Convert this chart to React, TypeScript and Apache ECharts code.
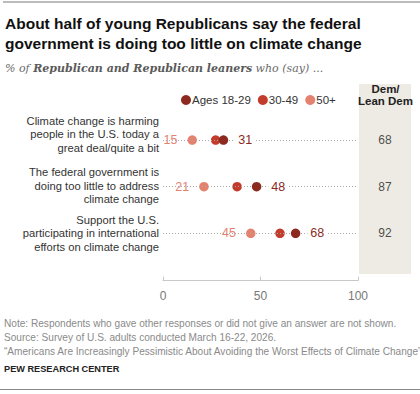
import React, { useEffect, useRef } from "react";
import * as echarts from "echarts";

// Survey items (rows, top to bottom)
const categories = [
  "Climate change is harming\npeople in the U.S. today a\ngreat deal/quite a bit",
  "The federal government is\ndoing too little to address\nclimate change",
  "Support the U.S.\nparticipating in international\nefforts on climate change",
];

// Republican / Republican-leaning shares by age group (%)
const ages18to29 = [31, 48, 68];
const ages30to49 = [27, 38, 60];
const ages50plus = [15, 21, 45];

// Democrat / lean Democrat shares (%)
const demLeanDem = [68, 87, 92];

const seriesNames = ["Ages 18-29", "30-49", "50+"];
const seriesColors = ["#8C2A1F", "#C23B2B", "#E5826F"];
const xMin = 0;
const xMax = 100;
const xInterval = 50;

const noteLines = [
  "Note: Respondents who gave other responses or did not give an answer are not shown.",
  "Source: Survey of U.S. adults conducted March 16-22, 2026.",
  "\u201cAmericans Are Increasingly Pessimistic About Avoiding the Worst Effects of Climate Change\u201d",
];

const SANS = "'Liberation Sans', Arial, sans-serif";
const SERIF = "'DejaVu Serif', Georgia, serif";

// extra blank space under each row label, nudging the text block upward
const labelLift = [12, 2, 0];

export default function App() {
  const ref = useRef<HTMLDivElement>(null);

  useEffect(() => {
    if (!ref.current) return;
    const chart = echarts.init(ref.current, undefined, { renderer: "svg" });

    const gridTop = 116.7;
    const gridHeight = 140;

    const rowIdx = categories.map((_, i) => i);

    const option: echarts.EChartsOption = {
      animation: false,
      backgroundColor: "#ffffff",
      textStyle: { fontFamily: SANS },
      title: {
        text:
          "About half of young Republicans say the federal\ngovernment is doing too little on climate change",
        left: 5,
        top: 13,
        padding: 0,
        textStyle: {
          fontFamily: SANS,
          fontSize: 15.5,
          fontWeight: "bold",
          lineHeight: 20,
          color: "#111111",
        },
      },
      legend: {
        data: seriesNames,
        left: 181,
        top: 94,
        padding: 0,
        icon: "circle",
        itemWidth: 10,
        itemHeight: 10,
        itemGap: 7,
        textStyle: {
          fontFamily: SANS,
          fontSize: 11.5,
          color: "#333333",
          padding: [0, 0, 0, -4],
        },
      },
      grid: [
        { left: 163, width: 195, top: gridTop, height: gridHeight },
        { left: 359, width: 52, top: gridTop, height: gridHeight },
      ],
      xAxis: [
        {
          type: "value",
          gridIndex: 0,
          min: xMin,
          max: xMax,
          interval: xInterval,
          offset: 24,
          axisLine: { show: true, lineStyle: { color: "#c8c8c8", width: 1 } },
          axisTick: { show: true, inside: true, length: 4, lineStyle: { color: "#c8c8c8" } },
          axisLabel: { color: "#777777", fontSize: 12, margin: 9, fontFamily: SANS },
          splitLine: { show: false },
        },
        {
          type: "value",
          gridIndex: 1,
          min: 0,
          max: 1,
          show: false,
        },
      ],
      yAxis: [
        {
          type: "category",
          gridIndex: 0,
          data: categories,
          inverse: true,
          axisLine: { show: false },
          axisTick: { show: false },
          axisLabel: {
            margin: 4,
            align: "right",
            formatter: (value: string, index: number) => {
              const lines = value.split("\n").map((l) => `{t|${l}}`);
              const lift = labelLift[index] || 0;
              if (lift > 0) lines.push(`{s${index}| }`);
              return lines.join("\n");
            },
            rich: {
              t: { fontFamily: SANS, fontSize: 11.2, lineHeight: 13.5, color: "#333333", align: "right" },
              s0: { fontSize: 1, lineHeight: labelLift[0] },
              s1: { fontSize: 1, lineHeight: labelLift[1] },
              s2: { fontSize: 1, lineHeight: labelLift[2] },
            },
          },
        },
        {
          type: "category",
          gridIndex: 1,
          data: categories,
          inverse: true,
          show: false,
        },
      ],
      series: [
        {
          // dotted guide for each row, 0 to 100
          type: "scatter",
          name: "guides",
          xAxisIndex: 0,
          yAxisIndex: 0,
          data: [],
          z: 1,
          markLine: {
            silent: true,
            symbol: "none",
            label: { show: false },
            lineStyle: { color: "#a8a8a8", type: [1, 2], width: 1 },
            data: rowIdx.map((i) => [
              { coord: [xMin, categories[i]] },
              { coord: [xMax, categories[i]] },
            ]) as any,
          },
        },
        {
          type: "scatter",
          name: seriesNames[2],
          xAxisIndex: 0,
          yAxisIndex: 0,
          z: 3,
          symbolSize: 9.5,
          itemStyle: { color: seriesColors[2], opacity: 1 },
          data: ages50plus.map((v, i) => [v, categories[i]]),
          label: {
            show: true,
            position: "left",
            distance: 7,
            formatter: (p: any) => String(p.value[0]),
            color: seriesColors[2],
            fontFamily: SANS,
            fontSize: 12.5,
            backgroundColor: "#ffffff",
            padding: [1, 3],
          },
        },
        {
          type: "scatter",
          name: seriesNames[1],
          xAxisIndex: 0,
          yAxisIndex: 0,
          z: 4,
          symbolSize: 9.5,
          itemStyle: { color: seriesColors[1], opacity: 1 },
          data: ages30to49.map((v, i) => [v, categories[i]]),
        },
        {
          type: "scatter",
          name: seriesNames[0],
          xAxisIndex: 0,
          yAxisIndex: 0,
          z: 5,
          symbolSize: 9.5,
          itemStyle: { color: seriesColors[0], opacity: 1 },
          data: ages18to29.map((v, i) => [v, categories[i]]),
          label: {
            show: true,
            position: "right",
            distance: 7,
            formatter: (p: any) => String(p.value[0]),
            color: seriesColors[0],
            fontFamily: SANS,
            fontSize: 12.5,
            backgroundColor: "#ffffff",
            padding: [1, 3],
          },
        },
        {
          type: "scatter",
          name: "Dem/Lean Dem",
          xAxisIndex: 1,
          yAxisIndex: 1,
          z: 6,
          symbolSize: 1,
          itemStyle: { color: "rgba(0,0,0,0)" },
          data: demLeanDem.map((v, i) => [0.5, categories[i], v]),
          label: {
            show: true,
            position: "inside",
            formatter: (p: any) => String(p.value[2]),
            color: "#222222",
            fontFamily: SANS,
            fontSize: 12,
          },
        },
      ],
      graphic: [
        // top rule
        {
          type: "line",
          shape: { x1: 3, y1: 2, x2: 420, y2: 2 },
          style: { stroke: "#7a7a7a", lineWidth: 1.2 },
          silent: true,
        },
        // Democrat column background
        {
          type: "rect",
          shape: { x: 359, y: 84, width: 52, height: 190 },
          style: { fill: "#EEEBE4" },
          z: -1,
          silent: true,
        },
        {
          type: "text",
          x: 385.5,
          y: 95,
          style: {
            text: "Dem/\nLean Dem",
            fontFamily: SANS,
            fontSize: 11.5,
            fontWeight: "bold",
            lineHeight: 12.5,
            fill: "#222222",
            align: "center",
            verticalAlign: "middle",
          },
          silent: true,
        },
        // subtitle
        {
          type: "text",
          x: 5,
          y: 68,
          style: {
            text: "{i|% of }{b|Republican and Republican leaners}{i| who (say) ...}",
            verticalAlign: "middle",
            rich: {
              i: { fontFamily: SERIF, fontStyle: "italic", fontSize: 11, fill: "#6b6b6b" },
              b: { fontFamily: SERIF, fontStyle: "italic", fontWeight: "bold", fontSize: 11, fill: "#5a5a5a" },
            },
          },
          silent: true,
        },
        // notes
        ...noteLines.map((line, i) => ({
          type: "text" as const,
          x: 4,
          y: 323.5 + i * 14,
          style: {
            text: line,
            fontFamily: SANS,
            fontSize: 10.1,
            fill: "#8a8a8a",
            verticalAlign: "middle" as const,
          },
          silent: true,
        })),
        {
          type: "text",
          x: 4,
          y: 369,
          style: {
            text: "PEW RESEARCH CENTER",
            fontFamily: SANS,
            fontSize: 9.2,
            fontWeight: "bold",
            fill: "#222222",
            verticalAlign: "middle",
          },
          silent: true,
        },
        // bottom rule
        {
          type: "line",
          shape: { x1: 0, y1: 389.5, x2: 420, y2: 389.5 },
          style: { stroke: "#8a8a8a", lineWidth: 1 },
          silent: true,
        },
      ],
    };

    chart.setOption(option);
    return () => chart.dispose();
  }, []);

  return (
    <div
      ref={ref}
      style={{ position: "fixed", left: 0, top: 0, width: 420, height: 394 }}
    />
  );
}
